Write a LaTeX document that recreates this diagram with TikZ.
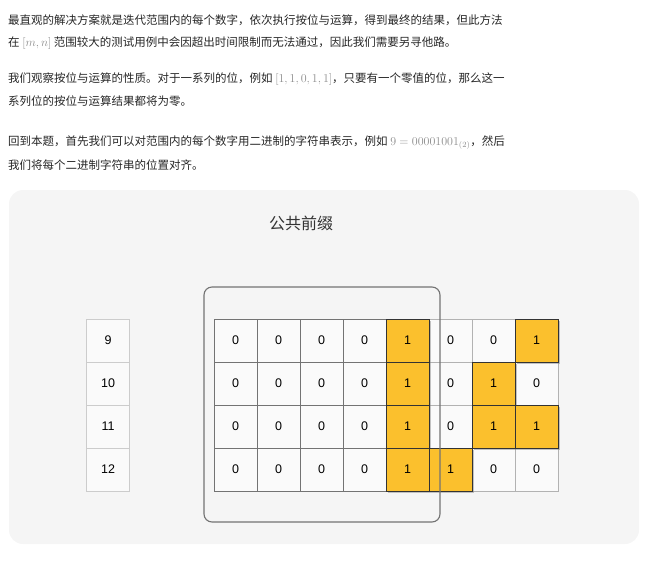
\documentclass[tikz,border=0pt]{standalone}
\usepackage[no-math]{fontspec}
\setmainfont{Noto Sans CJK SC}
\newfontfamily\arialfont{Liberation Sans}
\usetikzlibrary{shadows}
\definecolor{panelgray}{HTML}{F5F5F5}
\definecolor{bityellow}{HTML}{FBC02D}
\definecolor{inkgray}{HTML}{333333}

\begin{document}
\begin{tikzpicture}[x=1pt, y=-1pt,
  para/.style={anchor=west, inner sep=0pt, text=black!85, font=\fontsize{11.5}{14}\selectfont},
  idxcell/.style={draw=black!20, fill=black!2, minimum size=43pt, inner sep=0pt, font=\arialfont\fontsize{12.5}{15}\selectfont},
  bit0/.style={idxcell, fill=black!2},
  bit1/.style={idxcell, draw=black!80, fill=bityellow, drop shadow={shadow xshift=2pt, shadow yshift=-2pt, opacity=.45}}]
  \newcommand{\gm}[1]{\textcolor{black!45}{$#1$}}
  \useasboundingbox (0,0) rectangle (655,560);

  % text above the figure
  \node[para] (l1) at (8,20) {最直观的解决方案就是迭代范围内的每个数字，依次执行按位与运算，得到最终的结果，但此方法};
  \node[para] (l2) at (8,43) {在 \gm{[m,n]} 范围较大的测试用例中会因超出时间限制而无法通过，因此我们需要另寻他路。};
  \node[para] (l3) at (8,79) {我们观察按位与运算的性质。对于一系列的位，例如 \gm{[1,1,0,1,1]}，只要有一个零值的位，那么这一};
  \node[para] (l4) at (8,101) {系列位的按位与运算结果都将为零。};
  \node[para] (l5) at (8,143) {回到本题，首先我们可以对范围内的每个数字用二进制的字符串表示，例如 \gm{9=00001001_{(2)}}，然后};
  \node[para] (l6) at (8,165) {我们将每个二进制字符串的位置对齐。};

  \fill[panelgray, rounded corners=14pt] (9,190) rectangle (639,544);
  \node[text=inkgray, font=\fontsize{16}{18}\selectfont] (title) at (301,223) {公共前缀};

  \def\rows{9/{0,0,0,0,1,0,0,1}, 10/{0,0,0,0,1,0,1,0}, 11/{0,0,0,0,1,0,1,1}, 12/{0,0,0,0,1,1,0,0}}
  % white cells first, yellow cells on top
  \foreach \n/\bits [count=\r] in \rows {
    \node[idxcell] (n\r) at (108, 297.5+43*\r) {\n};
    \foreach \b [count=\c] in \bits {
      \ifnum\c<5 \def\lc{black!55}\else\def\lc{black!30}\fi
      \ifnum\b=0 \node[bit0, draw=\lc] (c\r\c) at (192.5+43*\c, 297.5+43*\r) {\b}; \fi
    }
  }
  \foreach \n/\bits [count=\r] in \rows {
    \foreach \b [count=\c] in \bits {
      \ifnum\b=1 \node[bit1] (c\r\c) at (192.5+43*\c, 297.5+43*\r) {\b}; \fi
    }
  }

  \draw[black!55, line width=1.1pt, rounded corners=8pt] (204,287) rectangle (440,522);
\end{tikzpicture}
\end{document}
